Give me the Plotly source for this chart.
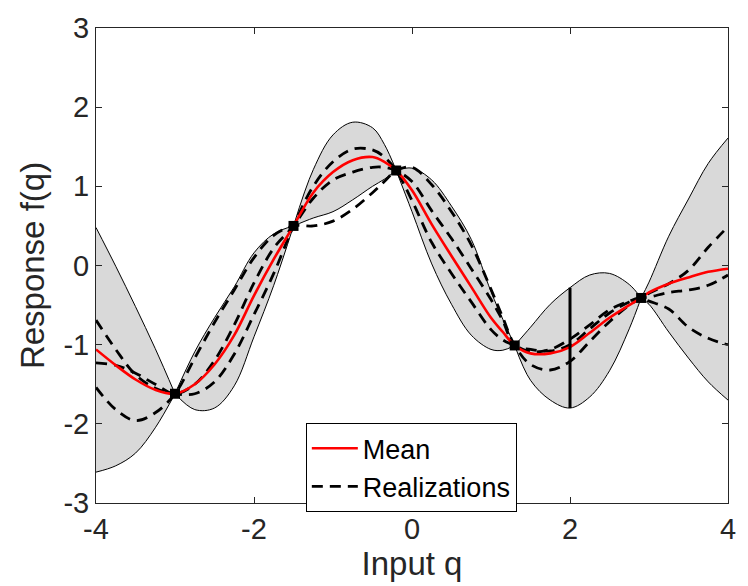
import plotly.graph_objects as go

# ---- data ----
X = [-4, -3.75, -3.5, -3.25, -3, -2.75, -2.5, -2.25, -2, -1.75, -1.5, -1.25, -1, -0.75,
     -0.5, -0.35, -0.2, 0, 0.25, 0.5, 0.75, 1, 1.15, 1.3, 1.5, 1.75, 2, 2.25, 2.5, 2.75,
     2.9, 3, 3.25, 3.5, 3.75, 4]

MEAN = [-1.06, -1.26, -1.44, -1.57, -1.62, -1.50, -1.25, -0.88, -0.38, 0.08, 0.50, 0.92,
        1.18, 1.33, 1.37, 1.31, 1.20, 0.95, 0.52, 0.12, -0.27, -0.66, -0.84, -1.01, -1.11,
        -1.11, -1.03, -0.85, -0.66, -0.50, -0.41, -0.34, -0.23, -0.15, -0.08, -0.04]

UPPER = [0.48, -0.01, -0.52, -1.05, -1.62, -1.09, -0.66, -0.27, 0.16, 0.40, 0.50, 1.21,
         1.65, 1.81, 1.74, 1.53, 1.20, 1.23, 1.08, 0.75, 0.33, -0.33, -0.68, -1.01, -0.78,
         -0.49, -0.28, -0.12, -0.10, -0.24, -0.41, -0.21, 0.37, 0.84, 1.29, 1.61]

LOWER = [-2.61, -2.53, -2.37, -2.05, -1.62, -1.82, -1.80, -1.52, -0.90, -0.25, 0.50, 0.60,
         0.68, 0.83, 1.00, 1.09, 1.20, 0.68, 0.02, -0.49, -0.88, -1.06, -1.07, -1.01, -1.45,
         -1.70, -1.80, -1.66, -1.33, -0.80, -0.41, -0.49, -0.84, -1.17, -1.47, -1.70]

REAL_1 = [-0.69, -1.06, -1.38, -1.55, -1.62, -1.62, -1.47, -1.12, -0.62, -0.10, 0.50, 1.00,
          1.31, 1.47, 1.46, 1.37, 1.20, 0.82, 0.29, -0.10, -0.46, -0.81, -0.94, -1.01, -1.09,
          -1.06, -0.93, -0.75, -0.56, -0.45, -0.41, -0.45, -0.55, -0.78, -0.92, -1.00]

REAL_2 = [-1.23, -1.26, -1.36, -1.50, -1.62, -1.50, -1.20, -0.75, -0.22, 0.22, 0.50, 0.85,
          1.08, 1.18, 1.24, 1.24, 1.20, 1.06, 0.69, 0.34, -0.04, -0.43, -0.70, -1.01, -1.06,
          -1.08, -1.00, -0.80, -0.60, -0.46, -0.41, -0.40, -0.34, -0.31, -0.25, -0.12]

REAL_3 = [-1.54, -1.82, -1.96, -1.86, -1.62, -1.17, -0.72, -0.31, 0.10, 0.38, 0.50, 0.50,
          0.56, 0.71, 0.92, 1.06, 1.20, 1.24, 1.02, 0.68, 0.26, -0.30, -0.66, -1.01, -1.25,
          -1.32, -1.21, -0.96, -0.71, -0.50, -0.41, -0.35, -0.23, -0.06, 0.23, 0.49]

OBS_X = [-3, -1.5, -0.2, 1.3, 2.9]
OBS_Y = [-1.62, 0.50, 1.20, -1.01, -0.41]
PROBE_X = 2

X_TICKS = [-4, -2, 0, 2, 4]
X_TICK_LABELS = ["-4", "-2", "0", "2", "4"]
Y_TICKS = [-3, -2, -1, 0, 1, 2, 3]
Y_TICK_LABELS = ["-3", "-2", "-1", "0", "1", "2", "3"]

FONT = "Liberation Sans, Arial, Helvetica, sans-serif"
AXC = "#262626"
BAND = "rgb(217,217,217)"

fig = go.Figure()

# confidence band, drawn piecewise between observations so the pinches stay sharp
breaks = [0] + [X.index(v) for v in OBS_X] + [len(X) - 1]
for a, b in zip(breaks[:-1], breaks[1:]):
    xs = X[a:b + 1]
    fig.add_trace(go.Scatter(x=xs, y=LOWER[a:b + 1], mode="lines",
                             line=dict(color="black", width=1, shape="spline"),
                             showlegend=False, hoverinfo="skip"))
    fig.add_trace(go.Scatter(x=xs, y=UPPER[a:b + 1], mode="lines", fill="tonexty",
                             fillcolor=BAND,
                             line=dict(color="black", width=1, shape="spline"),
                             showlegend=False, hoverinfo="skip"))

# realizations
for k, r in enumerate([REAL_1, REAL_2, REAL_3]):
    fig.add_trace(go.Scatter(x=X, y=r, mode="lines", name="Realizations",
                             line=dict(color="black", width=2.8, dash="11px,7px",
                                       shape="spline"),
                             showlegend=(k == 0), legendrank=2))

# mean
fig.add_trace(go.Scatter(x=X, y=MEAN, mode="lines", name="Mean",
                         line=dict(color="red", width=2.6, shape="spline"),
                         legendrank=1))

# probe line at x = 2 spanning the band
ip = X.index(PROBE_X)
fig.add_trace(go.Scatter(x=[PROBE_X, PROBE_X], y=[LOWER[ip], UPPER[ip]], mode="lines",
                         line=dict(color="black", width=3), showlegend=False))

# observations
fig.add_trace(go.Scatter(x=OBS_X, y=OBS_Y, mode="markers",
                         marker=dict(symbol="square", size=10, color="black"),
                         showlegend=False))

axis_common = dict(
    ticks="inside", ticklen=6, tickcolor=AXC, tickwidth=1,
    showline=True, linecolor=AXC, linewidth=1, mirror="ticks",
    showgrid=False, zeroline=False,
    tickfont=dict(family=FONT, size=29, color=AXC),
)

fig.update_layout(
    width=748, height=586,
    margin=dict(l=96, r=20, t=22, b=75),
    plot_bgcolor="white", paper_bgcolor="white",
    font=dict(family=FONT, color=AXC),
    xaxis=dict(range=[-4, 4], tickvals=X_TICKS, ticktext=X_TICK_LABELS,
               title=dict(text="Input q", font=dict(family=FONT, size=33, color=AXC),
                          standoff=6),
               **axis_common),
    yaxis=dict(range=[-3, 3], tickvals=Y_TICKS, ticktext=Y_TICK_LABELS,
               title=dict(text="Response f(q)", font=dict(family=FONT, size=33, color=AXC),
                          standoff=8),
               **axis_common),
    legend=dict(x=0.332, y=0.168, xanchor="left", yanchor="top",
                bgcolor="white", bordercolor="black", borderwidth=1,
                font=dict(family=FONT, size=27, color="black"),
                traceorder="normal", tracegroupgap=0, itemwidth=46),
    showlegend=True,
)

fig.write_html("out.html")
